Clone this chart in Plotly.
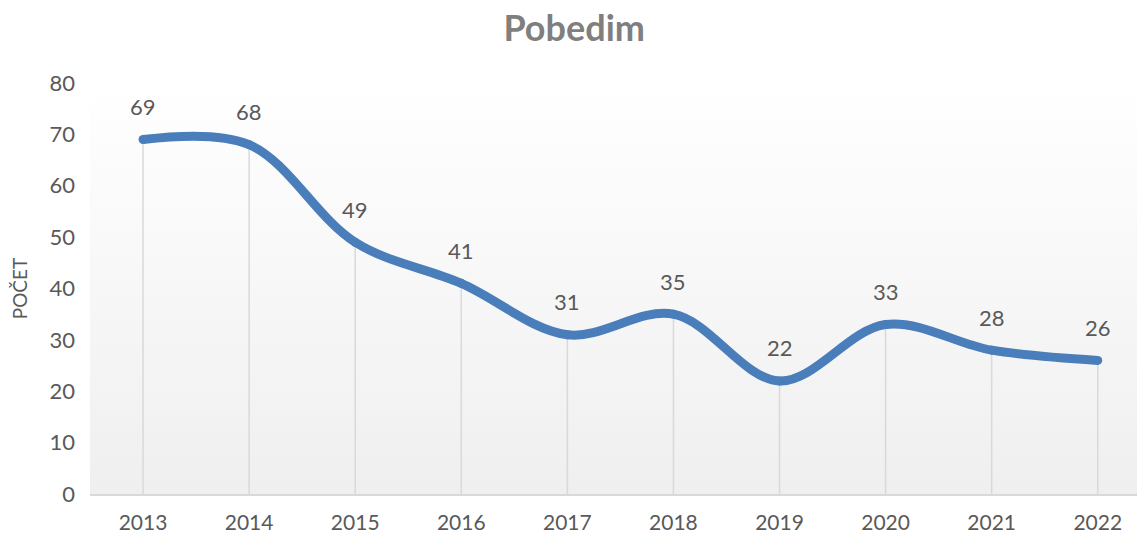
import plotly.graph_objects as go

years = ["2013", "2014", "2015", "2016", "2017", "2018", "2019", "2020", "2021", "2022"]
counts = [69, 68, 49, 41, 31, 35, 22, 33, 28, 26]
y_ticks = [0, 10, 20, 30, 40, 50, 60, 70, 80]

xs = list(range(len(years)))
FONT = "Lato"
TXT = "#595959"
BLUE = "#4a7ebb"

fig = go.Figure()

# plot-area gradient background
fig.add_trace(go.Scatter(
    x=[-0.5, 9.5, 9.5, -0.5, -0.5], y=[0, 0, 80, 80, 0],
    mode="none", fill="toself",
    fillgradient=dict(type="vertical", colorscale=[[0, "#efefef"], [1, "#ffffff"]]),
    hoverinfo="skip", showlegend=False,
))

# drop lines
dx, dy = [], []
for x, v in zip(xs, counts):
    dx += [x, x, None]
    dy += [0, v, None]
fig.add_trace(go.Scatter(x=dx, y=dy, mode="lines",
                         line=dict(color="#d9d9d9", width=1.5),
                         hoverinfo="skip", showlegend=False))

# main smoothed line
fig.add_trace(go.Scatter(
    x=xs, y=counts, mode="lines+markers",
    line=dict(color=BLUE, width=9, shape="spline", smoothing=1.0),
    marker=dict(color=BLUE, size=9),
    showlegend=False,
))

for x, v in zip(xs, counts):
    fig.add_annotation(x=x, y=v, text=str(v), showarrow=False, yshift=33,
                       font=dict(family=FONT, size=22, color=TXT))

fig.update_layout(
    width=1137, height=536,
    margin=dict(l=90, r=0, t=83, b=42),
    paper_bgcolor="white", plot_bgcolor="white",
    title=dict(text="<b>Pobedim</b>", x=0.505, xanchor="center", y=0.947, yanchor="middle",
               font=dict(family=FONT, size=36, color="#7f7f7f")),
    font=dict(family=FONT, color=TXT),
    xaxis=dict(range=[-0.5, 9.37], tickvals=xs, ticktext=years, automargin=False,
               showgrid=False, zeroline=False, showline=True,
               linecolor="#d9d9d9", linewidth=1.5, ticks="", ticklabelstandoff=9,
               tickfont=dict(family=FONT, size=21, color=TXT)),
    yaxis=dict(range=[0, 80], tickvals=y_ticks, showgrid=False, zeroline=False, automargin=False,
               showline=False, ticks="", ticklabelstandoff=14,
               tickfont=dict(family=FONT, size=22, color=TXT),
               title=dict(text="POČET", font=dict(family=FONT, size=19, color=TXT), standoff=16)),
)

fig.write_html("out.html", config={"displayModeBar": False},
               post_script="document.body.style.margin='0';document.body.style.padding='0';")
